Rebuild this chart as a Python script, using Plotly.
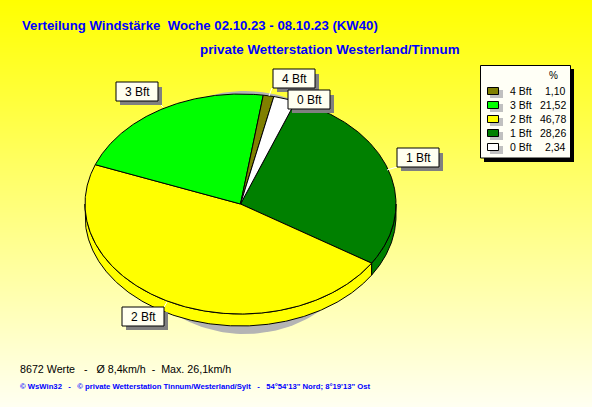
import math
import plotly.graph_objects as go

# --- data ---
labels = ["1 Bft", "2 Bft", "3 Bft", "4 Bft", "0 Bft"]
values = [28.26, 46.78, 21.52, 1.10, 2.34]
colors = ["#008000", "#FFFF00", "#00FF00", "#808000", "#FFFFFF"]
legend_order = ["4 Bft", "3 Bft", "2 Bft", "1 Bft", "0 Bft"]
legend_text = ["1,10", "21,52", "46,78", "28,26", "2,34"]
title_1 = "Verteilung Windstärke\u00a0\u00a0Woche 02.10.23 - 08.10.23 (KW40)"
title_2 = "private Wetterstation Westerland/Tinnum"
stats = "8672 Werte\u00a0\u00a0\u00a0-\u00a0\u00a0\u00a0Ø 8,4km/h\u00a0\u00a0-\u00a0\u00a0Max. 26,1km/h"
footer = "© WsWin32\u00a0\u00a0\u00a0-\u00a0\u00a0\u00a0© private Wetterstation Tinnum/Westerland/Sylt\u00a0\u00a0\u00a0-\u00a0\u00a0\u00a054°54'13\" Nord; 8°19'13\" Ost"

# --- pie geometry ---
W, H = 592, 407
CX, CY, RX, RY, DEPTH = 240.5, 204, 155.5, 110, 12
START = 20.8
BLUE = "#0000FF"
PANEL = "#FFFFF0"
FONT = "Liberation Sans"


def pt(t, dy=0):
    a = math.radians(t)
    return CX + RX * math.sin(a), CY - RY * math.cos(a) + dy


def arc(t0, t1, dy=0):
    n = max(2, int(abs(t1 - t0)) * 2)
    return [pt(t0 + (t1 - t0) * i / n, dy) for i in range(n + 1)]


def poly(points, color):
    xs = [p[0] for p in points] + [points[0][0]]
    ys = [p[1] for p in points] + [points[0][1]]
    return go.Scatter(x=xs, y=ys, mode="lines", fill="toself", fillcolor=color,
                      line=dict(color="black", width=1), hoverinfo="skip", showlegend=False)


fig = go.Figure()
fig.add_trace(go.Heatmap(x=[0, W], y=[0, H], z=[[0, 0], [1, 1]], zsmooth="best", showscale=False,
                         colorscale=[[0, "#FFFF00"], [1, "#FFFFF2"]], hoverinfo="skip"))

# drop shadow under the pie
sx = [245 + 128 * math.sin(math.radians(a)) for a in range(0, 361, 2)]
sy = [212.5 - 121.5 * math.cos(math.radians(a)) for a in range(0, 361, 2)]
fig.add_trace(go.Scatter(x=sx, y=sy, mode="lines", fill="toself", fillcolor="#B4B4B4",
                         line=dict(width=0), hoverinfo="skip", showlegend=False))

# slice angles from the values
total = sum(values)
angles = []
t = START
for v in values:
    angles.append((t, t + v / total * 360))
    t += v / total * 360

# extruded rim (only the visible lower half)
for (a0, a1), c in zip(angles, colors):
    lo, hi = max(a0, 90), min(a1, 270)
    if lo < hi:
        fig.add_trace(poly(arc(lo, hi, 0) + arc(hi, lo, DEPTH), c))

# top faces
for (a0, a1), c in zip(angles, colors):
    fig.add_trace(poly([(CX, CY)] + arc(a0, a1), c))

shapes = []
annots = []


def rect(x0, y0, x1, y1, fill, line=None):
    shapes.append(dict(type="rect", xref="x", yref="y", x0=x0, y0=y0, x1=x1, y1=y1, fillcolor=fill,
                       line=dict(color=line or fill, width=1 if line else 0)))


def text(x, y, s, size=11, color="black", anchor="left", bold=False, family=FONT):
    annots.append(dict(x=x, y=y, xref="x", yref="y", text=f"<b>{s}</b>" if bold else s, showarrow=False,
                       xanchor=anchor, yanchor="middle", borderpad=0, borderwidth=0,
                       font=dict(family=family, size=size, color=color)))


# leader lines
leaders = [(159, 103, 163, 107), (272, 88, 269, 96), (397, 167, 387, 170), (164, 307, 167, 302)]
for x0, y0, x1, y1 in leaders:
    shapes.append(dict(type="line", xref="x", yref="y", x0=x0, y0=y0, x1=x1, y1=y1,
                       line=dict(color="white", width=1)))

# label boxes
boxes = {"3 Bft": (116, 82), "4 Bft": (273, 69), "0 Bft": (288, 90), "1 Bft": (397, 148), "2 Bft": (122, 307)}
for name in ["3 Bft", "4 Bft", "0 Bft", "1 Bft", "2 Bft"]:
    bx, by = boxes[name]
    rect(bx + 4, by + 5, bx + 46, by + 23, "#808080")
    rect(bx, by, bx + 42, by + 19, PANEL, "black")
    text(bx + 21, by + 10, name, size=12, anchor="center")

# legend
rect(484, 69, 574, 162, "black")
rect(480.5, 65.5, 570.5, 158, "#FFFFF6", "black")
text(553, 75, "%", size=10, anchor="center")
for i, (name, val) in enumerate(zip(legend_order, legend_text)):
    y = 91 + i * 14
    col = colors[labels.index(name)]
    rect(490, y - 1, 503, y + 7, "#C0C0C0")
    rect(487.5, y - 3.5, 498.5, y + 3.5, col, "black")
    text(510, y, name, size=10.5)
    text(566, y, val, size=10.5, anchor="right")

# titles and footer
text(22, 25, title_1, size=13.2, color=BLUE, bold=True)
text(199.5, 49, title_2, size=13.35, color=BLUE, bold=True)
text(20, 369, stats, size=10.7)
text(20, 386, footer, size=7.7, color=BLUE, bold=True)

fig.update_layout(width=W, height=H, margin=dict(l=0, r=0, t=0, b=0), showlegend=False,
                  paper_bgcolor="#FFFF80", plot_bgcolor="#FFFF80", shapes=shapes, annotations=annots,
                  xaxis=dict(range=[0, W], visible=False, fixedrange=True),
                  yaxis=dict(range=[H, 0], visible=False, fixedrange=True))
fig.write_html("out.html", config=dict(displayModeBar=False),
               post_script="document.body.style.margin='0';document.body.style.overflow='hidden';")
